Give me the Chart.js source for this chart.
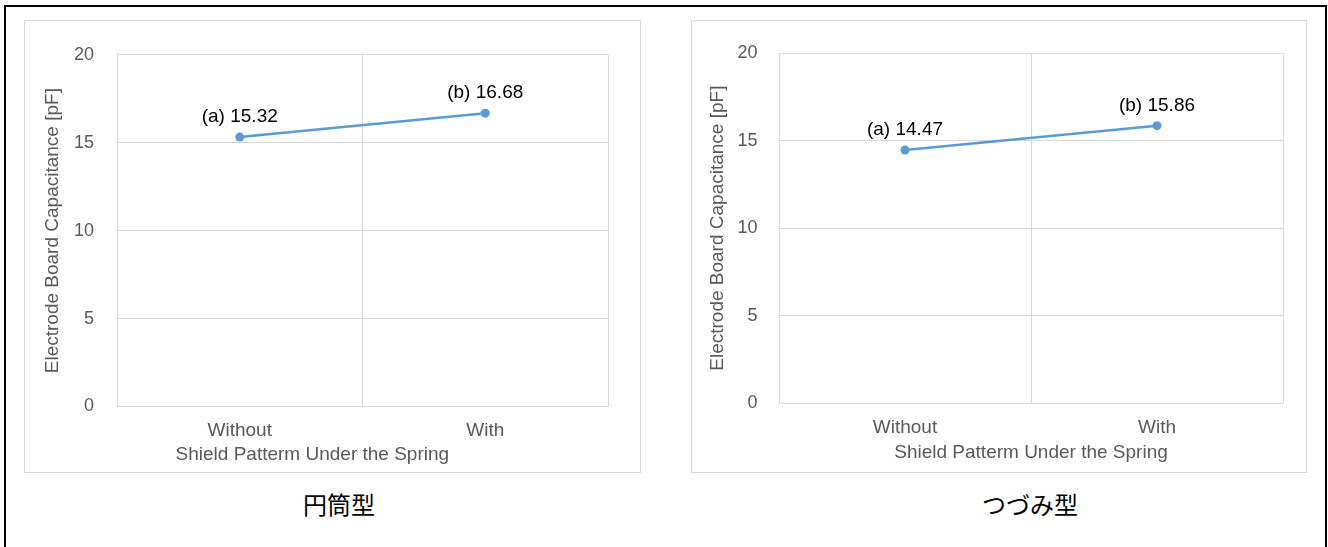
<!DOCTYPE html>
<html>
<head>
<meta charset="utf-8">
<script src="https://cdn.jsdelivr.net/npm/chart.js@4.4.1/dist/chart.umd.min.js"></script>
<style>
  html, body { margin: 0; padding: 0; background: #fff; overflow: hidden; }
  body { width: 1328px; height: 547px; position: relative; }
  #frame { position: absolute; left: 4px; top: 5px; width: 1319px; height: 600px;
           border: 2px solid #000; border-bottom: none; }
  .panel { position: absolute; border: 1px solid #d9d9d9; background: #fff; }
  .panel canvas { display: block; }
  .caption { position: absolute; top: 486px; font-family: "Noto Sans CJK JP", sans-serif;
             font-size: 24px; color: #000; transform: translateX(-50%); white-space: nowrap; }
</style>
</head>
<body>
<div id="frame"></div>
<div class="panel" style="left:24px;top:20px;width:615px;height:451px;"><canvas id="chartLeft" width="615" height="451"></canvas></div>
<div class="panel" style="left:691px;top:20px;width:614px;height:451px;"><canvas id="chartRight" width="614" height="451"></canvas></div>
<div class="caption" style="left:339px;">円筒型</div>
<div class="caption" style="left:1030px;">つづみ型</div>

<script>
// data
const categories = ['Without', 'With'];
const pointTags = ['(a)', '(b)'];
const cylinderValues = [15.32, 16.68];   // 円筒型
const tsuzumiValues = [14.47, 15.86];    // つづみ型
const yTicks = [0, 5, 10, 15, 20];

const xTitle = 'Shield Patterm Under the Spring';
const yTitle = 'Electrode Board Capacitance [pF]';

Chart.defaults.font.family = '"Liberation Sans", Arial, sans-serif';
Chart.defaults.font.size = 19;
Chart.defaults.color = '#595959';

// draws "(a) 15.32" style labels above each point
const pointLabels = {
  id: 'pointLabels',
  afterDatasetsDraw(chart) {
    const ctx = chart.ctx;
    const meta = chart.getDatasetMeta(0);
    const values = chart.data.datasets[0].data;
    ctx.save();
    ctx.font = '19px "Liberation Sans", Arial, sans-serif';
    ctx.fillStyle = '#000';
    ctx.textAlign = 'center';
    ctx.textBaseline = 'alphabetic';
    meta.data.forEach((pt, i) => {
      ctx.fillText(pointTags[i] + ' ' + values[i].toFixed(2), pt.x, pt.y - 15);
    });
    ctx.restore();
  }
};

function makeChart(id, values, lay) {
  const ctx = document.getElementById(id).getContext('2d');
  return new Chart(ctx, {
    type: 'line',
    data: {
      labels: categories,
      datasets: [{
        data: values,
        borderColor: '#5b9bd5',
        backgroundColor: '#5b9bd5',
        borderWidth: 2.5,
        pointRadius: 4.5,
        pointBorderWidth: 0,
        pointBackgroundColor: '#5b9bd5',
        tension: 0
      }]
    },
    options: {
      responsive: false,
      animation: false,
      events: [],
      layout: { padding: { top: lay.top, right: lay.right, left: 0, bottom: 0 } },
      plugins: { legend: { display: false }, tooltip: { enabled: false } },
      scales: {
        x: {
          offset: true,
          grid: { offset: true, color: '#d9d9d9', drawTicks: false },
          border: { color: '#d9d9d9' },
          ticks: { padding: lay.xPad, color: '#595959' },
          // left panel's title sits off-centre in the original, trailing spaces nudge it
          title: { display: true, text: xTitle + lay.xTitleTail, color: '#595959', padding: { top: 0, bottom: lay.xTitlePad } },
          afterFit: s => { s.height = lay.xHeight; }
        },
        y: {
          min: 0,
          max: 20,
          afterBuildTicks: s => { s.ticks = yTicks.map(v => ({ value: v })); },
          grid: { color: '#d9d9d9', drawTicks: false },
          border: { display: false },
          ticks: { padding: lay.yPad, color: '#595959', font: { size: 18 } },
          title: { display: true, text: yTitle, color: '#595959', padding: { top: lay.yTitlePad, bottom: 0 } },
          afterFit: s => { s.width = lay.yWidth; }
        }
      }
    },
    plugins: [pointLabels]
  });
}

makeChart('chartLeft', cylinderValues, {
  top: 33.5, right: 32, yWidth: 92, xHeight: 65.5, yPad: 23, xPad: 13, xTitlePad: 6, yTitlePad: 16,
  xTitleTail: ' '.repeat(19)
});
makeChart('chartRight', tsuzumiValues, {
  top: 32, right: 23, yWidth: 87, xHeight: 69, yPad: 21.5, xPad: 13, xTitlePad: 8, yTitlePad: 14,
  xTitleTail: ''
});
</script>
</body>
</html>
